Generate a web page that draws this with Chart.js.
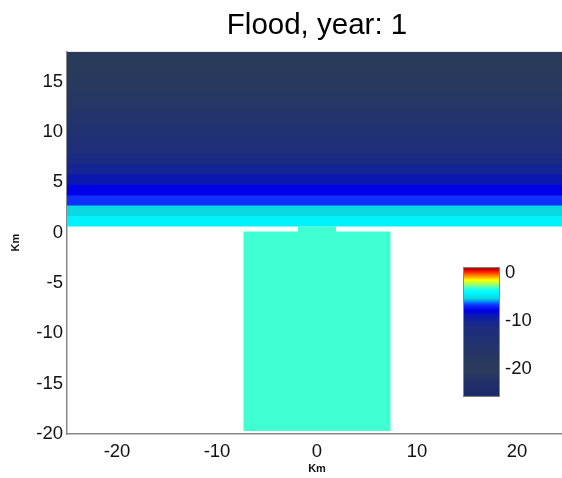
<!DOCTYPE html>
<html>
<head>
<meta charset="utf-8">
<script src="https://cdn.jsdelivr.net/npm/chart.js@4/dist/chart.umd.min.js"></script>
<style>
  html, body { margin: 0; padding: 0; background: #fff; overflow: hidden; }
  #wrap { position: relative; width: 562px; height: 478px; overflow: hidden; }
  #map { position: absolute; left: 0; top: 0; }
  #bar { position: absolute; left: 455px; top: 251px; }
</style>
</head>
<body>
<div id="wrap">
  <canvas id="map" width="572" height="478"></canvas>
  <canvas id="bar" width="95" height="162"></canvas>
</div>
<script>
// sea rows north of the coast: edges (km) and depth (m) of each row
var rowEdges = [0.6, 1.65, 2.7, 3.7, 4.75, 5.8, 6.8, 7.85, 8.9, 9.9, 10.95, 12, 13, 14.05, 15.1, 16.1, 17.15, 18];
var rowDepth = [-4.4, -5.4, -6.8, -7.9, -9.0, -10.2, -11.3, -12.4, -13.5, -14.6, -15.6, -16.6, -17.6, -18.5, -19.3, -20.0, -20.5];

// flooded basin and the channel joining it to the sea
var basinX = [-7.37, 7.37];
var basinY = [-19.7, 0.1];
var channelX = [-1.9, 1.9];
var channelY = [-1, 0.6];
var basinDepth = -3.2;

var xTicks = [-20, -10, 0, 10, 20];
var yTicks = [-20, -15, -10, -5, 0, 5, 10, 15];
var cbTicks = [0, -10, -20];
var cbRange = [-25.8, 1.1];

// depth -> colour
var cmap = [
  [1.1, '#800000'], [0.6, '#d00000'], [0.1, '#ff2000'], [-0.5, '#ff7000'],
  [-1.1, '#ffc000'], [-1.6, '#ffff00'], [-2.6, '#90ff70'], [-3.2, '#40ffd0'],
  [-3.9, '#00ffff'], [-4.4, '#00f2fa'], [-5.4, '#0ad8e0'], [-6.4, '#0060ff'],
  [-6.8, '#1030ff'], [-7.9, '#0000e8'], [-9.0, '#0a18b0'], [-10.5, '#18288e'],
  [-12, '#1d2d7a'], [-15, '#223370'], [-18, '#27385f'], [-20.5, '#2a3a5a'],
  [-22.5, '#223168'], [-25.8, '#1a286a']
];

function hexRgb(h) {
  return [parseInt(h.substr(1, 2), 16), parseInt(h.substr(3, 2), 16), parseInt(h.substr(5, 2), 16)];
}

function depthColor(d) {
  if (d >= cmap[0][0]) return cmap[0][1];
  for (var i = 1; i < cmap.length; i++) {
    if (d >= cmap[i][0]) {
      var a = hexRgb(cmap[i - 1][1]), b = hexRgb(cmap[i][1]);
      var t = (cmap[i - 1][0] - d) / (cmap[i - 1][0] - cmap[i][0]);
      var c = a.map(function(v, k) { return Math.round(v + (b[k] - v) * t); });
      return 'rgb(' + c.join(',') + ')';
    }
  }
  return cmap[cmap.length - 1][1];
}

// a filled rectangle: line along the top edge, filled down to the bottom value
function cell(xs, ys, color) {
  return {
    data: [{x: xs[0], y: ys[1]}, {x: xs[1], y: ys[1]}],
    fill: {value: ys[0]},
    backgroundColor: color,
    borderWidth: 0,
    pointRadius: 0
  };
}

// each sea row reaches halfway into the row below it; lower rows are painted
// over the higher ones (dataset 0 is drawn last), so no seams show between rows
var datasets = [];
for (var i = 0; i < rowDepth.length; i++) {
  var bottom = i === 0 ? rowEdges[0] : (rowEdges[i - 1] + rowEdges[i]) / 2;
  datasets.push(cell([-25, 25], [bottom, rowEdges[i + 1]], depthColor(rowDepth[i])));
}
datasets.push(cell(basinX, basinY, depthColor(basinDepth)));
datasets.push(cell(channelX, channelY, depthColor(basinDepth)));

var fontFam = '"Liberation Sans", Arial, sans-serif';
var tickFont = {family: fontFam, size: 18.5};
var kmFont = {family: fontFam, size: 11, weight: 'bold'};

new Chart(document.getElementById('map'), {
  type: 'line',
  data: {datasets: datasets},
  options: {
    responsive: false,
    animation: false,
    events: [],
    layout: {padding: {left: 0, right: 5, top: 0, bottom: 0}},
    plugins: {
      legend: {display: false},
      tooltip: {enabled: false},
      title: {
        display: true,
        fullSize: false,
        text: 'Flood, year: 1',
        color: '#000',
        font: {family: fontFam, size: 29.5, weight: 'normal'},
        padding: {top: 8, bottom: 8}
      }
    },
    scales: {
      x: {
        type: 'linear', min: -25, max: 25,
        afterBuildTicks: function(s) { s.ticks = xTicks.map(function(v) { return {value: v}; }); },
        afterFit: function(s) { s.height = 44; },
        grid: {display: false, drawTicks: false},
        border: {color: '#888', width: 1.5},
        ticks: {padding: 7, color: '#111', font: tickFont},
        title: {display: true, text: 'Km', color: '#111', font: kmFont, padding: {top: 0, bottom: 2}}
      },
      y: {
        type: 'linear', min: -20, max: 18,
        afterBuildTicks: function(s) { s.ticks = yTicks.map(function(v) { return {value: v}; }); },
        afterFit: function(s) { s.width = 67; },
        grid: {display: false, drawTicks: false},
        border: {color: '#888', width: 1.5},
        ticks: {padding: 4, color: '#111', font: tickFont},
        title: {display: true, text: 'Km', color: '#111', font: kmFont, padding: {top: 9, bottom: 0}}
      }
    }
  }
});

// colour bar
var frame = {
  id: 'frame',
  afterDraw: function(chart) {
    var a = chart.chartArea, ctx = chart.ctx;
    ctx.save();
    ctx.strokeStyle = '#888';
    ctx.lineWidth = 1;
    ctx.strokeRect(a.left + 0.5, a.top + 0.5, a.right - a.left - 1, a.bottom - a.top - 1);
    ctx.restore();
  }
};

new Chart(document.getElementById('bar'), {
  type: 'bar',
  data: {
    labels: ['depth'],
    datasets: [{
      data: [[cbRange[0], cbRange[1]]],
      borderWidth: 0,
      barPercentage: 1,
      categoryPercentage: 1,
      backgroundColor: function(ctx) {
        var chart = ctx.chart;
        if (!chart.chartArea) return '#000';
        var ys = chart.scales.y;
        var top = ys.getPixelForValue(cbRange[1]), bottom = ys.getPixelForValue(cbRange[0]);
        var g = chart.ctx.createLinearGradient(0, top, 0, bottom);
        cmap.forEach(function(s) {
          var f = (cbRange[1] - s[0]) / (cbRange[1] - cbRange[0]);
          g.addColorStop(Math.min(1, Math.max(0, f)), s[1]);
        });
        return g;
      }
    }]
  },
  options: {
    responsive: false,
    animation: false,
    events: [],
    layout: {padding: {left: 8, right: 0, top: 14, bottom: 14}},
    plugins: {legend: {display: false}, tooltip: {enabled: false}},
    scales: {
      x: {display: false},
      y: {
        position: 'right',
        min: cbRange[0], max: cbRange[1],
        afterBuildTicks: function(s) { s.ticks = cbTicks.map(function(v) { return {value: v}; }); },
        afterFit: function(s) { s.width = 50; },
        grid: {display: false, drawTicks: false},
        border: {display: false},
        ticks: {padding: 5, color: '#111', font: tickFont}
      }
    }
  },
  plugins: [frame]
});
</script>
</body>
</html>
